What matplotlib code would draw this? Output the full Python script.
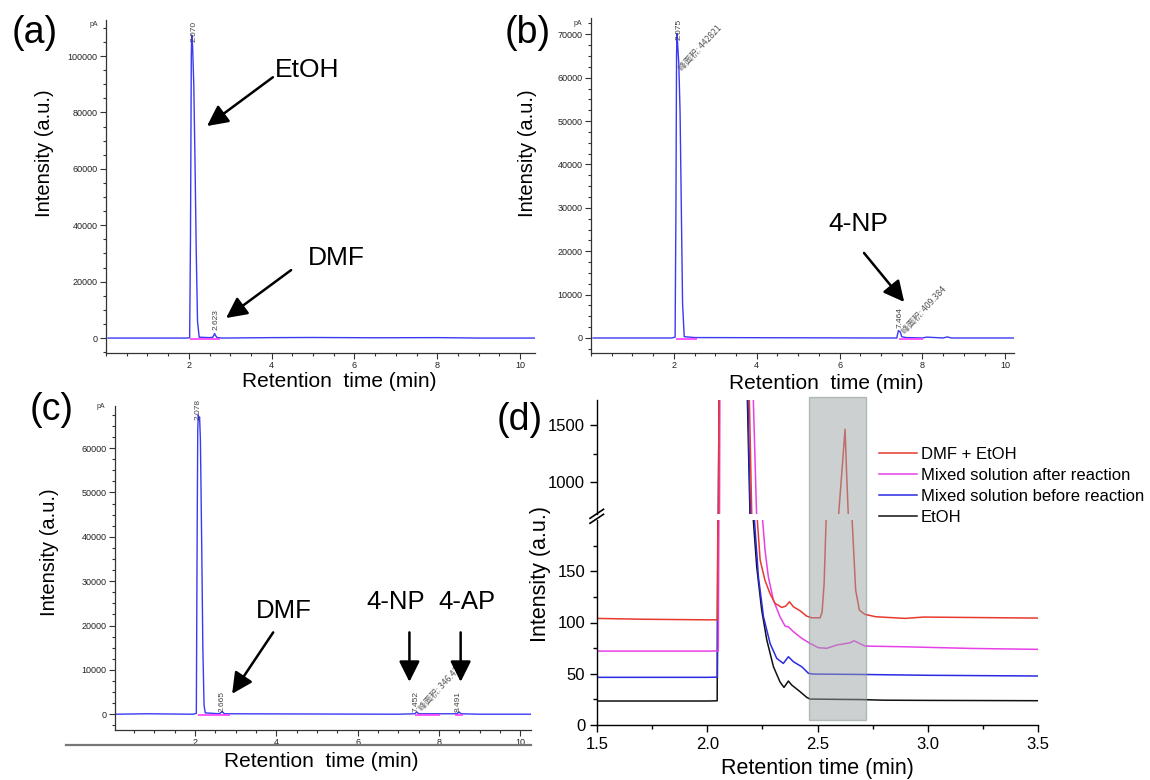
import matplotlib
matplotlib.use('Agg')
import matplotlib.pyplot as plt
from matplotlib.ticker import MultipleLocator, FixedLocator, FuncFormatter
from matplotlib.patches import Rectangle
from matplotlib.lines import Line2D
import matplotlib.transforms as mtransforms

# ---------------- data ----------------
# (a) EtOH + DMF chromatogram
a_time = [0.05, 1.0, 1.95, 2.02, 2.04, 2.06, 2.07, 2.09, 2.12, 2.15, 2.18, 2.21, 2.25, 2.5,
          2.58, 2.61, 2.623, 2.64, 2.68, 2.8, 4.0, 5.0, 6.5, 8.0, 9.0, 10.35]
a_signal = [0, 0, 0, 100, 35000, 100000, 107500, 104000, 90000, 62000, 30000, 6000, 300, 150,
            300, 1200, 1600, 1000, 200, 0, 150, 200, 100, 150, 0, 0]
a_base_start = [2.03]
a_base_end = [2.76]

# (b) 4-NP chromatogram
b_time = [0.05, 1.0, 1.95, 2.03, 2.05, 2.065, 2.075, 2.09, 2.12, 2.15, 2.18, 2.21, 2.25, 2.5,
          7.0, 7.38, 7.42, 7.464, 7.5, 7.6, 8.0, 8.1, 8.5, 8.6, 8.7, 9.0, 10.2]
b_signal = [0, 0, 0, 200, 30000, 65000, 70200, 68000, 63000, 52000, 30000, 8000, 300, 100,
            0, 0, 1700, 1400, 300, 100, 0, 200, 0, 250, 0, 0, 0]
b_base_start = [2.04, 7.44]
b_base_end = [2.55, 8.02]

# (c) after reaction chromatogram
c_time = [0.05, 0.8, 1.95, 2.03, 2.05, 2.065, 2.078, 2.095, 2.11, 2.13, 2.16, 2.19, 2.22, 2.25,
          2.6, 2.665, 2.72, 7.0, 7.40, 7.452, 7.5, 8.44, 8.491, 8.54, 9.0, 10.26]
c_signal = [0, 100, 0, 200, 40000, 64000, 67500, 66500, 67000, 62000, 40000, 15000, 2000, 300,
            100, 600, 100, 0, 100, 500, 100, 100, 500, 100, 0, 0]
c_base_start = [2.06, 7.40, 8.40]
c_base_end = [2.85, 8.02, 8.60]

# (d) zoomed chromatograms
d_labels = ["DMF + EtOH", "Mixed solution after reaction", "Mixed solution before reaction", "EtOH"]

red_t = [1.5, 1.7, 2.0, 2.046, 2.05, 2.06, 2.183, 2.191, 2.202, 2.227, 2.24, 2.262, 2.285, 2.308,
         2.338, 2.356, 2.373, 2.391, 2.421, 2.451, 2.474, 2.512, 2.521, 2.530, 2.539, 2.56, 2.595,
         2.61, 2.625, 2.632, 2.64, 2.65, 2.657, 2.673, 2.690, 2.715, 2.765, 2.897, 2.981, 3.5]
red_y = [104.0, 103.2, 102.6, 102.6, 300, 5000, 3000, 1722, 698, 200, 160.8, 141, 128, 118.6,
         114.7, 116, 120.2, 115.3, 111.4, 106.2, 104.6, 104.6, 110.4, 138, 200, 400, 698,
         1079, 1465, 1079, 698, 400, 200, 131.6, 112, 107.9, 105.6, 104, 105.3, 104.3]

mag_t = [1.5, 2.0, 2.05, 2.055, 2.062, 2.2, 2.209, 2.224, 2.251, 2.262, 2.277, 2.30, 2.33, 2.353,
         2.368, 2.391, 2.429, 2.466, 2.504, 2.542, 2.587, 2.648, 2.665, 2.715, 2.897, 3.197, 3.5]
mag_y = [72.1, 72.1, 72.3, 300, 5000, 3000, 1722, 698, 200, 170.6, 144.6, 121.8, 105.6, 96.5,
         95.8, 91, 84.5, 79.6, 75.4, 74.8, 78, 80.2, 82.2, 77, 76.3, 74.7, 73.8]

blue_t = [1.5, 2.0, 2.046, 2.05, 2.06, 2.178, 2.185, 2.196, 2.214, 2.232, 2.255, 2.285, 2.315,
          2.345, 2.368, 2.391, 2.429, 2.459, 2.481, 2.7, 3.0, 3.5]
blue_y = [46.5, 46.5, 46.7, 300, 5000, 3000, 1722, 698, 200, 144.6, 105.6, 79.6, 65,
          60.1, 66.6, 61.7, 56.8, 50.4, 49.7, 49.3, 48.5, 47.8]

black_t = [1.5, 1.7, 2.0, 2.045, 2.05, 2.06, 2.175, 2.182, 2.194, 2.209, 2.2245, 2.247, 2.27,
           2.30, 2.33, 2.348, 2.368, 2.383, 2.421, 2.451, 2.466, 2.6, 2.7, 2.8, 3.0, 3.5]
black_y = [23.4, 23.4, 23.4, 23.6, 300, 5000, 3000, 1722, 698, 200, 154, 112, 83,
           57, 42, 36.7, 42.9, 39, 32.5, 27, 25.3, 25, 24.8, 24.2, 24, 23.7]

highlight = (2.463, 2.720)

# ---------------- figure ----------------
plt.rcParams['font.family'] = ['Liberation Sans', 'DejaVu Sans']
CJK = ['Noto Sans CJK SC', 'DejaVu Sans']
W, H = 1150, 780
fig = plt.figure(figsize=(11.5, 7.8), dpi=100)


def px_axes(l, t, r, b):
    return fig.add_axes([l / W, 1 - b / H, (r - l) / W, (b - t) / H])


BLUE = '#3a3af2'
PINK = '#ff3cff'
GREY = '#333333'


def chrom_style(ax, xlim, ylim, ymajor, yminor):
    ax.set_xlim(*xlim)
    ax.set_ylim(*ylim)
    for s in ['top', 'right']:
        ax.spines[s].set_visible(False)
    for s in ['left', 'bottom']:
        ax.spines[s].set_color(GREY)
        ax.spines[s].set_linewidth(0.9)
    ax.xaxis.set_major_locator(FixedLocator([2, 4, 6, 8, 10]))
    ax.xaxis.set_minor_locator(MultipleLocator(0.5))
    ax.yaxis.set_major_locator(MultipleLocator(ymajor))
    ax.yaxis.set_minor_locator(MultipleLocator(yminor))
    ax.yaxis.set_major_formatter(FuncFormatter(lambda v, p: f'{int(round(v))}'))
    ax.tick_params(which='both', direction='out', colors=GREY, labelsize=6.5, width=0.8, pad=2)
    ax.tick_params(which='major', length=4)
    ax.tick_params(which='minor', length=2.5)
    ax.tick_params(labelcolor='#222222')


def arrow(ax, tail, head):
    ax.annotate('', xy=head, xytext=tail,
                arrowprops=dict(arrowstyle='-|>,head_length=0.9,head_width=0.45', lw=1.8,
                                color='black', mutation_scale=14, shrinkA=0, shrinkB=0))


def peak_label(ax, x, y, txt):
    ax.text(x, y, txt, rotation=90, ha='center', va='bottom', fontsize=6, color='#444444')


def area_label(ax, x, y, txt):
    ax.text(x, y, txt, rotation=47, rotation_mode='anchor', ha='left', va='center',
            fontsize=6.2, color='#555555', family=CJK)


XLAB = 'Retention  time (min)'
YLAB = 'Intensity (a.u.)'

# ---- (a) ----
ax = px_axes(106, 20, 535, 353)
chrom_style(ax, (0, 10.36), (-5300, 112800), 20000, 5000)
ax.plot(a_time, a_signal, color=BLUE, lw=1.0)
ax.hlines([-250] * len(a_base_start), a_base_start, a_base_end, color=PINK, lw=1.2)
peak_label(ax, 2.125, 104900, '2.070')
peak_label(ax, 2.66, 2800, '2.623')
ax.text(-0.018, 0.985, 'pA', transform=ax.transAxes, ha='right', va='center', fontsize=5, color=GREY)
ax.text(4.86, 95000, 'EtOH', fontsize=19, ha='center', va='center')
arrow(ax, (4.03, 92500), (2.44, 75200))
ax.text(5.56, 28400, 'DMF', fontsize=19, ha='center', va='center')
arrow(ax, (4.47, 24100), (2.90, 7100))
ax.set_xlabel(XLAB, fontsize=15, va='center')
ax.xaxis.set_label_coords(0.543, -0.087)
ax.set_ylabel(YLAB, fontsize=14.5, va='center')
ax.yaxis.set_label_coords(-0.1445, 0.60)

# ---- (b) ----
ax = px_axes(591, 18, 1014, 353)
chrom_style(ax, (0, 10.21), (-3460, 73760), 10000, 2500)
ax.plot(b_time, b_signal, color=BLUE, lw=1.0)
ax.hlines([-250] * len(b_base_start), b_base_start, b_base_end, color=PINK, lw=1.2)
peak_label(ax, 2.125, 68700, '2.075')
area_label(ax, 2.17, 61800, '峰面积: 442821')
peak_label(ax, 7.45, 2300, '7.464')
area_label(ax, 7.54, 1150, '峰面积: 409.384')
ax.text(-0.021, 0.985, 'pA', transform=ax.transAxes, ha='right', va='center', fontsize=5, color=GREY)
ax.text(6.45, 26300, '4-NP', fontsize=19, ha='center', va='center')
arrow(ax, (6.59, 19600), (7.56, 8300))
ax.set_xlabel(XLAB, fontsize=15, va='center')
ax.xaxis.set_label_coords(0.556, -0.0896)
ax.set_ylabel(YLAB, fontsize=14.5, va='center')
ax.yaxis.set_label_coords(-0.149, 0.597)

# ---- (c) ----
ax = px_axes(115, 406, 531, 730)
chrom_style(ax, (0.03, 10.26), (-3560, 69500), 10000, 2500)
ax.plot(c_time, c_signal, color=BLUE, lw=1.0)
ax.hlines([-250] * len(c_base_start), c_base_start, c_base_end, color=PINK, lw=1.2)
peak_label(ax, 2.08, 66350, '2.078')
peak_label(ax, 2.66, 500, '2.665')
peak_label(ax, 7.43, 500, '7.452')
area_label(ax, 7.53, 970, '峰面积: 346.429')
peak_label(ax, 8.46, 500, '8.491')
ax.text(-0.024, 0.997, 'pA', transform=ax.transAxes, ha='right', va='center', fontsize=5, color=GREY)
ax.text(4.19, 23200, 'DMF', fontsize=18.5, ha='center', va='center')
arrow(ax, (3.92, 18450), (2.91, 4600))
ax.text(6.94, 25300, '4-NP', fontsize=18.5, ha='center', va='center')
arrow(ax, (7.27, 18450), (7.27, 7300))
ax.text(8.68, 25300, '4-AP', fontsize=18.5, ha='center', va='center')
arrow(ax, (8.53, 18450), (8.53, 7300))
ax.set_xlabel(XLAB, fontsize=15, va='center')
ax.xaxis.set_label_coords(0.495, -0.098)
ax.set_ylabel(YLAB, fontsize=14.5, va='center')
ax.yaxis.set_label_coords(-0.157, 0.55)
fig.add_artist(Line2D([66 / W, 531 / W], [1 - 745 / H, 1 - 745 / H], color='#777777', lw=1.6))

# ---- (d) broken axis ----
axU = px_axes(597, 400, 1038, 514)
axL = px_axes(597, 520, 1038, 725)
series = [(red_t, red_y, '#e8392f'), (mag_t, mag_y, '#e840e8'),
          (blue_t, blue_y, '#2b2be3'), (black_t, black_y, '#111111')]
handles = []
for a in (axU, axL):
    a.set_xlim(1.5, 3.5)
    for s in ['top', 'right']:
        a.spines[s].set_visible(False)
    a.spines['left'].set_linewidth(1.0)
    a.spines['bottom'].set_linewidth(1.0)
    a.tick_params(which='both', direction='out', labelsize=12, width=1.0)
    a.tick_params(which='major', length=5)
    a.tick_params(which='minor', length=3)
    a.xaxis.set_major_locator(MultipleLocator(0.5))
    a.xaxis.set_minor_locator(MultipleLocator(0.25))
    for t, y, c in reversed(series):
        a.plot(t, y, color=c, lw=1.1)
axU.spines['bottom'].set_visible(False)
axU.tick_params(axis='x', which='both', bottom=False, labelbottom=False)
axU.set_ylim(722, 1722)
axU.yaxis.set_major_locator(FixedLocator([1000, 1500]))
axU.yaxis.set_minor_locator(FixedLocator([1250]))
axL.set_ylim(0, 200)
axL.yaxis.set_major_locator(FixedLocator([0, 50, 100, 150]))
axL.yaxis.set_minor_locator(FixedLocator([25, 75, 125, 175]))
axL.xaxis.set_major_formatter(FuncFormatter(lambda v, p: f'{v:.1f}'))

for t, y, c in series:
    handles.append(Line2D([], [], color=c, lw=1.1))

# highlight box spanning both parts
blend = mtransforms.blended_transform_factory(axL.transData, fig.transFigure)
rect = Rectangle((highlight[0], 1 - 720 / H), highlight[1] - highlight[0], (720 - 397) / H,
                 transform=blend, facecolor='#9aa2a4', alpha=0.5, edgecolor='#7f8a8a',
                 lw=1.0, clip_on=False, zorder=5)
axL.add_artist(rect)

# break marks
for dy in (0, 5):
    fig.add_artist(Line2D([590 / W, 603.5 / W], [1 - (518.3 + dy) / H, 1 - (509.3 + dy) / H],
                          color='black', lw=1.2))

fig.legend(handles, d_labels, loc='upper left', bbox_to_anchor=(879 / W, 1 - 447 / H),
           frameon=False, fontsize=12, handlelength=2.3, handletextpad=0.2,
           labelspacing=0.36, borderpad=0, borderaxespad=0)

axL.set_xlabel('Retention time (min)', fontsize=15.5, va='center')
axL.xaxis.set_label_coords(0.499, -0.21)
axL.set_ylabel(YLAB, fontsize=15.5, va='center')
axL.yaxis.set_label_coords(-0.127, 0.739)

# panel letters
for x, y, s in [(35, 33, '(a)'), (528, 33, '(b)'), (52, 410, '(c)'), (520, 420, '(d)')]:
    fig.text(x / W, 1 - y / H, s, fontsize=27, ha='center', va='center')

fig.savefig('out.png', dpi=100)
